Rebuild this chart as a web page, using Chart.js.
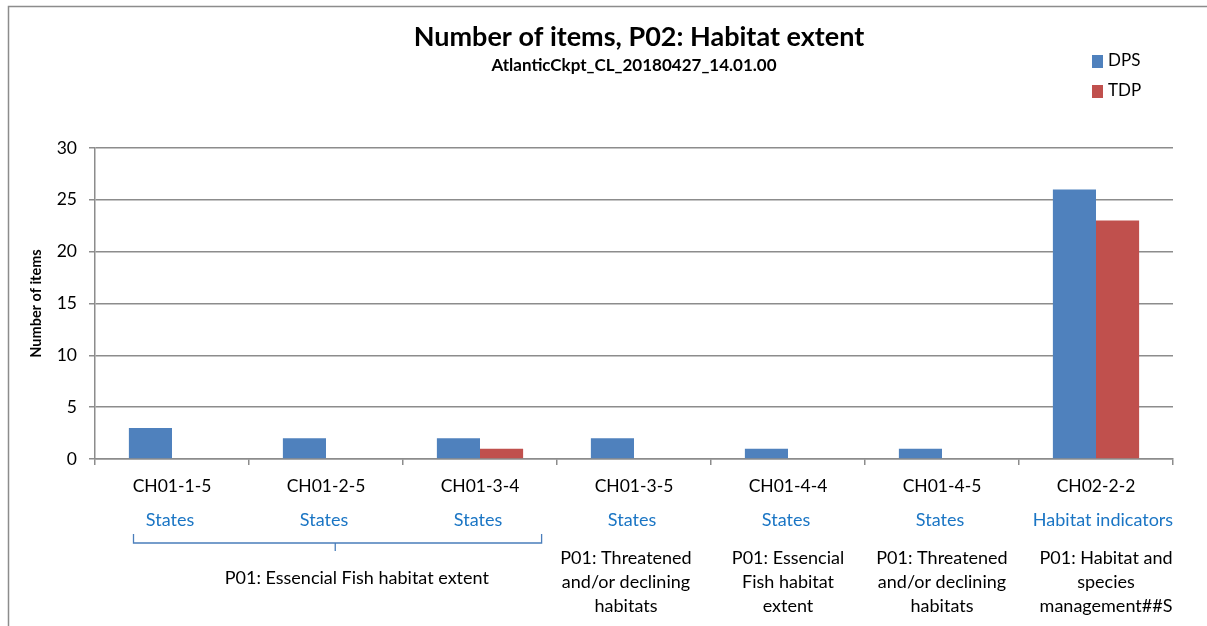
<!DOCTYPE html>
<html>
<head>
<meta charset="utf-8">
<script src="https://cdn.jsdelivr.net/npm/chart.js@4"></script>
<style>
  body { margin: 0; background: #fff; }
  #wrap { width: 1207px; height: 626px; }
</style>
</head>
<body>
<div id="wrap"><canvas id="myChart" width="1207" height="626"></canvas></div>
<script>
// data
const categories = ['CH01-1-5', 'CH01-2-5', 'CH01-3-4', 'CH01-3-5', 'CH01-4-4', 'CH01-4-5', 'CH02-2-2'];
const dpsValues = [3, 2, 2, 2, 1, 1, 26];
const tdpValues = [0, 0, 1, 0, 0, 0, 23];
const subLabels = ['States', 'States', 'States', 'States', 'States', 'States', 'Habitat indicators'];
const parentText = [
  ['P01: Essencial Fish habitat extent'],
  ['P01: Threatened', 'and/or declining', 'habitats'],
  ['P01: Essencial', 'Fish habitat', 'extent'],
  ['P01: Threatened', 'and/or declining', 'habitats'],
  ['P01: Habitat and', 'species', 'management##S']
];
const parentFrom = [0, 3, 4, 5, 6];
const parentTo = [2, 3, 4, 5, 6];
const yTicks = [0, 5, 10, 15, 20, 25, 30];
const titleText = 'Number of items, P02: Habitat extent';
const subtitleText = 'AtlanticCkpt_CL_20180427_14.01.00';
const seriesNames = ['DPS', 'TDP'];
const seriesColors = ['#4F81BD', '#C0504D'];

const FONT = 'Lato, "Open Sans", sans-serif';

// frame, title, legend and the extra label rows
const extras = {
  id: 'extras',
  beforeDraw(chart) {
    const c = chart.ctx;
    c.save();
    c.strokeStyle = '#8c8c8c';
    c.lineWidth = 1.5;
    c.beginPath();
    c.moveTo(8.5, 640); c.lineTo(8.5, 6.5); c.lineTo(1220, 6.5);
    c.stroke();
    c.restore();
  },
  afterDraw(chart) {
    const c = chart.ctx;
    const x = chart.scales.x;
    const step = x.getPixelForValue(1) - x.getPixelForValue(0);
    c.save();
    c.textAlign = 'center';
    c.textBaseline = 'middle';
    c.fillStyle = '#000';
    c.font = 'bold 27px ' + FONT;
    c.fillText(titleText, 639, 37);
    c.font = 'bold 17px ' + FONT;
    c.fillText(subtitleText, 634, 66);

    // legend
    c.textAlign = 'left';
    c.font = '17px ' + FONT;
    seriesNames.forEach((n, i) => {
      const y = 61 + i * 30;
      c.fillStyle = seriesColors[i];
      c.fillRect(1092, y - 6, 11, 13);
      c.fillStyle = '#000';
      c.fillText(n, 1108, y);
    });

    // second row
    c.textAlign = 'center';
    c.font = '18px ' + FONT;
    c.fillStyle = '#1a75c4';
    subLabels.forEach((s, i) => {
      c.fillText(s, x.getPixelForValue(i) + (s.length > 8 ? 7 : -2), 520);
    });

    // third row
    c.fillStyle = '#000';
    parentText.forEach((lines, i) => {
      const a = parentFrom[i], b = parentTo[i];
      if (a === b) {
        const cx = x.getPixelForValue(a) + (a === 6 ? 10 : (a === 3 ? -8 : 0));
        lines.forEach((l, k) => c.fillText(l, cx, 558 + k * 24));
      } else {
        const left = x.getPixelForValue(a) - step * 0.25;
        const right = x.getPixelForValue(b) + step * 0.4;
        const mid = (x.getPixelForValue(a) + x.getPixelForValue(b)) / 2 + step * 0.06;
        c.strokeStyle = '#4a7ebb';
        c.lineWidth = 1.3;
        c.beginPath();
        c.moveTo(left, 534); c.lineTo(left, 543); c.lineTo(right, 543); c.lineTo(right, 534);
        c.moveTo(mid, 543); c.lineTo(mid, 551);
        c.stroke();
        const tx = x.getPixelForValue(a + (b - a) / 2) + step * 0.2;
        lines.forEach((l, k) => c.fillText(l, tx, 578 + k * 24));
      }
    });
    c.restore();
  }
};

const ctx = document.getElementById('myChart').getContext('2d');
const myChart = new Chart(ctx, {
  type: 'bar',
  data: {
    labels: categories,
    datasets: [
      { label: seriesNames[0], data: dpsValues, backgroundColor: seriesColors[0], borderWidth: 0 },
      { label: seriesNames[1], data: tdpValues, backgroundColor: seriesColors[1], borderWidth: 0 }
    ]
  },
  options: {
    responsive: false,
    animation: false,
    layout: { padding: { left: 28, top: 148, right: 34, bottom: 0 } },
    datasets: { bar: { categoryPercentage: 0.56, barPercentage: 1 } },
    plugins: {
      legend: { display: false },
      title: { display: false },
      tooltip: { enabled: false }
    },
    scales: {
      x: {
        afterFit(scale) { scale.height = 167; },
        grid: { offset: true, drawOnChartArea: false, drawTicks: true, tickLength: 6, color: '#8c8c8c', lineWidth: 1.5 },
        border: { color: '#8c8c8c', width: 1.5 },
        ticks: { color: '#000', padding: 11, maxRotation: 0, autoSkip: false, font: { family: FONT, size: 17.5 } }
      },
      y: {
        min: 0,
        max: 30,
        afterFit(scale) { scale.width = 67; },
        afterBuildTicks(scale) { scale.ticks = yTicks.map(v => ({ value: v })); },
        grid: { color: '#8c8c8c', lineWidth: 1.5, tickLength: 6 },
        border: { color: '#8c8c8c', width: 1.5 },
        ticks: { color: '#000', padding: 12, font: { family: FONT, size: 17.5 } },
        title: { display: true, text: 'Number of items', color: '#000', padding: 0, font: { family: FONT, size: 14.5, weight: 'bold' } }
      }
    }
  },
  plugins: [extras]
});
</script>
</body>
</html>
